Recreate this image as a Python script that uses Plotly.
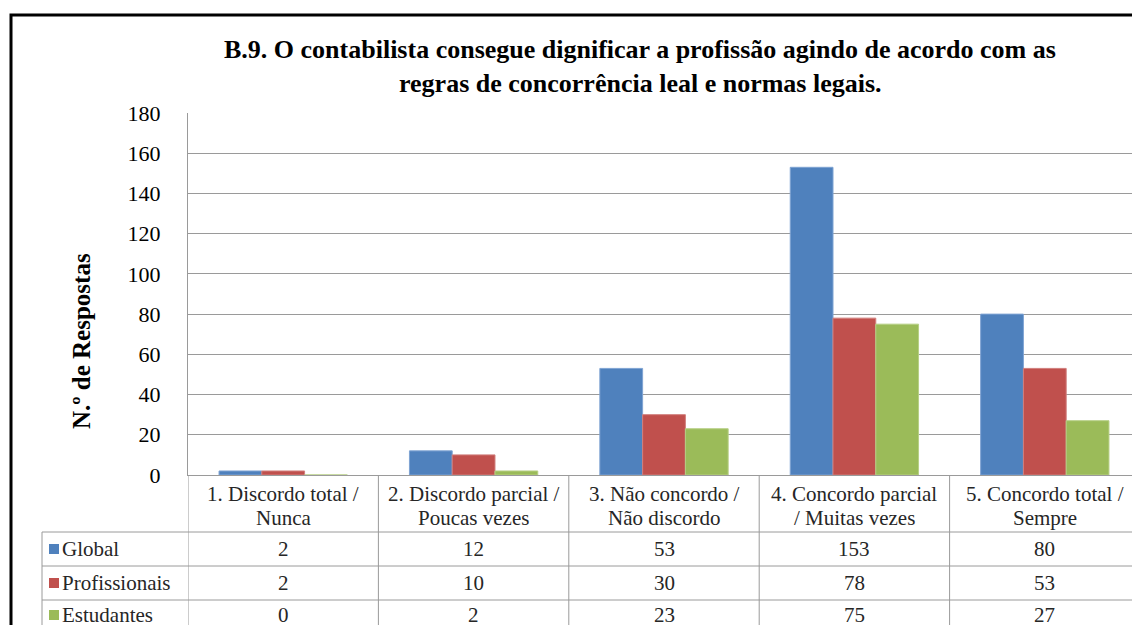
import plotly.graph_objects as go

# data
categories = ["1. Discordo total /<br>Nunca",
              "2. Discordo parcial /<br>Poucas vezes",
              "3. Não concordo /<br>Não discordo",
              "4. Concordo parcial<br>/ Muitas vezes",
              "5. Concordo total /<br>Sempre"]
series_names = ["Global", "Profissionais", "Estudantes"]
global_vals = [2, 12, 53, 153, 80]
prof_vals = [2, 10, 30, 78, 53]
estud_vals = [0, 2, 23, 75, 27]
y_ticks = [0, 20, 40, 60, 80, 100, 120, 140, 160, 180]

colors = ["#4F81BD", "#C0504D", "#9BBB59"]
edge = ["#7FA3D3", "#D17F7D", "#B6CF85"]
OFF = 8  # page body margin around the plotly div
W, H = 1140 - OFF, 625 - OFF
FONT = "Liberation Serif"
GRID = "#9A9A9A"
TXT = "#262626"


# page pixel -> paper fraction
def px(x):
    return (x - OFF) / W


def py(y):
    return 1 - (y - OFF) / H


fig = go.Figure()
for name, vals, c, e in zip(series_names, [global_vals, prof_vals, estud_vals], colors, edge):
    fig.add_trace(go.Bar(name=name, x=categories, y=vals, marker=dict(color=c, line=dict(color=e, width=1))))

shapes = []
annotations = []

# outer chart border (right/bottom cut off like in the screenshot)
shapes.append(dict(type="rect", xref="paper", yref="paper", x0=px(11), x1=px(1170),
                   y0=py(660), y1=py(15), line=dict(color="black", width=3)))

# data table grid
row_lines = [532, 566, 600]
for i in range(len(categories) + 1):
    shapes.append(dict(type="line", xref="x", yref="paper", x0=i - 0.5, x1=i - 0.5,
                       y0=py(475), y1=py(650), line=dict(color=GRID, width=1)))
for yy in row_lines:
    shapes.append(dict(type="line", xref="paper", yref="paper", x0=px(42), x1=1.02,
                       y0=py(yy), y1=py(yy), line=dict(color=GRID, width=1)))
shapes.append(dict(type="line", xref="paper", yref="paper", x0=px(42), x1=px(42),
                   y0=py(532), y1=py(650), line=dict(color=GRID, width=1)))

# header labels, one annotation per line to keep the tight line spacing
for cat in categories:
    for k, part in enumerate(cat.split("<br>")):
        annotations.append(dict(x=cat, y=py(494 + 24 * k), xref="x", yref="paper", text=part,
                                showarrow=False, xanchor="center", yanchor="middle",
                                font=dict(family=FONT, size=21, color=TXT)))

# rows: legend key + values
row_centers = [549, 583, 615]
for name, vals, c, yc in zip(series_names, [global_vals, prof_vals, estud_vals], colors, row_centers):
    shapes.append(dict(type="rect", xref="paper", yref="paper", x0=px(49), x1=px(59),
                       y0=py(yc + 5), y1=py(yc - 5), fillcolor=c, line=dict(width=0)))
    annotations.append(dict(x=px(60), y=py(yc), xref="paper", yref="paper", text=name, showarrow=False,
                            xanchor="left", yanchor="middle",
                            font=dict(family=FONT, size=21, color=TXT)))
    for cat, v in zip(categories, vals):
        annotations.append(dict(x=cat, y=py(yc), xref="x", yref="paper", text=str(v), showarrow=False,
                                xanchor="center", yanchor="middle",
                                font=dict(family=FONT, size=21, color=TXT)))

# title and axis title
title_lines = ["B.9. O contabilista consegue dignificar a profissão agindo de acordo com as",
               "regras de concorrência leal e normas legais."]
for k, line in enumerate(title_lines):
    annotations.append(dict(x=px(640), y=py(50 + 33 * k), xref="paper", yref="paper", showarrow=False,
                            xanchor="center", yanchor="middle", text="<b>" + line + "</b>",
                            font=dict(family=FONT, size=26, color="black")))
annotations.append(dict(x=px(81), y=py(341), xref="paper", yref="paper", showarrow=False, textangle=-90,
                        xanchor="center", yanchor="middle",
                        text="<b>N.º de Respostas</b>", font=dict(family=FONT, size=25, color="black")))

fig.update_layout(
    width=W, height=H,
    margin=dict(l=0, r=0, t=0, b=0),
    paper_bgcolor="white", plot_bgcolor="white",
    barmode="group", bargap=0.326, bargroupgap=0,
    showlegend=False,
    xaxis=dict(domain=[px(188), 1], range=[-0.5, 4.5], showticklabels=False, showgrid=False,
               showline=True, linecolor=GRID, linewidth=1, zeroline=False, fixedrange=True),
    yaxis=dict(domain=[py(475), py(113)], range=[0, 180], tickvals=y_ticks,
               showgrid=True, gridcolor=GRID, gridwidth=1, showline=True, linecolor=GRID,
               zeroline=False, ticks="", ticklabelstandoff=22,
               tickfont=dict(family=FONT, size=22, color="black"), automargin=False),
    shapes=shapes,
    annotations=annotations,
)

fig.write_html("out.html")
